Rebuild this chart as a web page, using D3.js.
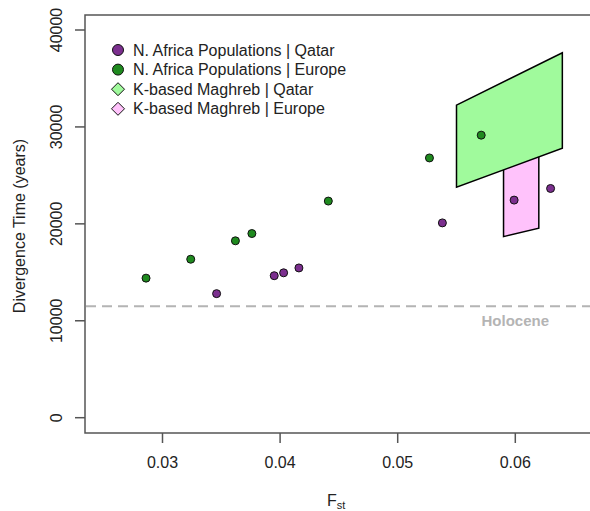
<!DOCTYPE html>
<html>
<head>
<meta charset="utf-8">
<script src="https://cdn.jsdelivr.net/npm/d3@7"></script>
<style>
  body { margin: 0; background: #fff; }
  text { font-family: "Liberation Sans", Arial, sans-serif; }
</style>
</head>
<body>
<script>
// data
var qatarFst = [0.0346, 0.0395, 0.0403, 0.0416, 0.0538, 0.0599, 0.0630];
var qatarTime = [12800, 14650, 14950, 15450, 20100, 22450, 23650];
var europeFst = [0.0286, 0.0324, 0.0362, 0.0376, 0.0441, 0.0527, 0.0571];
var europeTime = [14400, 16350, 18250, 19000, 22350, 26800, 29150];
var qatarBoxFst = [0.055, 0.064, 0.064, 0.055];
var qatarBoxTime = [32250, 37650, 27800, 23780];
var europeBoxFst = [0.059, 0.062, 0.062, 0.059];
var europeBoxTime = [26500, 27400, 19550, 18680];
var holocene = 11500;
var xTicks = [0.03, 0.04, 0.05, 0.06];
var yTicks = [0, 10000, 20000, 30000, 40000];
var legendLabels = ['N. Africa Populations | Qatar', 'N. Africa Populations | Europe',
  'K-based Maghreb | Qatar', 'K-based Maghreb | Europe'];

(function() {
  var W = 590, H = 511;
  var mL = 85, mR = 592, mT = 15, mB = 433;
  var purple = '#7b2f8e', green = '#1f8a1f', lightGreen = '#a0fa9c', pink = '#ffc2fb';
  var axisCol = '#555', textCol = '#222';

  var svg = d3.select('body').append('svg').attr('width', W).attr('height', H);

  var x = d3.scaleLinear().domain([0.03, 0.06]).range([162.5, 515.3]);
  var y = d3.scaleLinear().domain([0, 40000]).range([417.7, 30]);

  svg.append('clipPath').attr('id', 'clip').append('rect')
    .attr('x', mL).attr('y', mT).attr('width', mR - mL).attr('height', mB - mT);
  var plot = svg.append('g').attr('clip-path', 'url(#clip)');

  // holocene line
  plot.append('line')
    .attr('x1', mL + 1).attr('x2', mR)
    .attr('y1', y(holocene)).attr('y2', y(holocene))
    .attr('stroke', '#b4b4b4').attr('stroke-width', 2).attr('stroke-dasharray', '10,6');
  plot.append('text').attr('x', x(0.06)).attr('y', y(holocene) + 20)
    .attr('text-anchor', 'middle').attr('font-size', 15).attr('font-weight', 'bold')
    .attr('fill', '#b4b4b4').text('Holocene');

  function poly(fs, ts) {
    return fs.map(function(f, i) { return x(f) + ',' + y(ts[i]); }).join(' ');
  }
  plot.append('polygon').attr('points', poly(europeBoxFst, europeBoxTime))
    .attr('fill', pink).attr('stroke', '#000').attr('stroke-width', 1.5);
  plot.append('polygon').attr('points', poly(qatarBoxFst, qatarBoxTime))
    .attr('fill', lightGreen).attr('stroke', '#000').attr('stroke-width', 1.5);

  function dots(fs, ts, col) {
    plot.selectAll(null).data(fs).enter().append('circle')
      .attr('cx', function(d) { return x(d); })
      .attr('cy', function(d, i) { return y(ts[i]); })
      .attr('r', 4).attr('fill', col).attr('stroke', '#111').attr('stroke-width', 1);
  }
  dots(europeFst, europeTime, green);
  dots(qatarFst, qatarTime, purple);

  // box
  svg.append('rect').attr('x', mL).attr('y', mT)
    .attr('width', mR - mL).attr('height', mB - mT)
    .attr('fill', 'none').attr('stroke', axisCol).attr('stroke-width', 1.5);

  // y axis
  var yAxis = svg.append('g');
  yAxis.selectAll('.tk').data(yTicks).enter().append('line')
    .attr('x1', mL - 10).attr('x2', mL)
    .attr('y1', function(d) { return y(d); }).attr('y2', function(d) { return y(d); })
    .attr('stroke', axisCol).attr('stroke-width', 1.5);
  yAxis.selectAll('.lb').data(yTicks).enter().append('text')
    .attr('transform', function(d) { return 'translate(62,' + y(d) + ') rotate(-90)'; })
    .attr('text-anchor', 'middle').attr('font-size', 16).attr('fill', textCol)
    .text(function(d) { return d; });
  svg.append('text').attr('transform', 'translate(25,226) rotate(-90)')
    .attr('text-anchor', 'middle').attr('font-size', 16).attr('fill', textCol)
    .text('Divergence Time (years)');

  // x axis
  var xAxis = svg.append('g');
  xAxis.selectAll('.tk').data(xTicks).enter().append('line')
    .attr('x1', function(d) { return x(d); }).attr('x2', function(d) { return x(d); })
    .attr('y1', mB).attr('y2', mB + 10)
    .attr('stroke', axisCol).attr('stroke-width', 1.5);
  xAxis.selectAll('.lb').data(xTicks).enter().append('text')
    .attr('x', function(d) { return x(d); }).attr('y', 468)
    .attr('text-anchor', 'middle').attr('font-size', 16).attr('fill', textCol)
    .text(function(d) { return d3.format('.2f')(d); });
  var xl = svg.append('text').attr('x', 327).attr('y', 506).attr('font-size', 16).attr('fill', textCol);
  xl.append('tspan').text('F');
  xl.append('tspan').attr('font-size', 11).attr('dy', 3).text('st');

  // legend
  var legendFill = [purple, green, lightGreen, pink];
  var lg = svg.append('g');
  legendLabels.forEach(function(lab, i) {
    var ly = 50 + i * 19.6;
    if (i < 2) {
      lg.append('circle').attr('cx', 118).attr('cy', ly).attr('r', 5.5)
        .attr('fill', legendFill[i]).attr('stroke', '#111').attr('stroke-width', 1);
    } else {
      lg.append('path').attr('d', 'M118,' + (ly - 6.5) + 'L124.5,' + ly + 'L118,' + (ly + 6.5) + 'L111.5,' + ly + 'Z')
        .attr('fill', legendFill[i]).attr('stroke', '#111').attr('stroke-width', 1);
    }
    lg.append('text').attr('x', 133).attr('y', ly + 5.5).attr('font-size', 16).attr('fill', textCol).text(lab);
  });
})();
</script>
</body>
</html>
